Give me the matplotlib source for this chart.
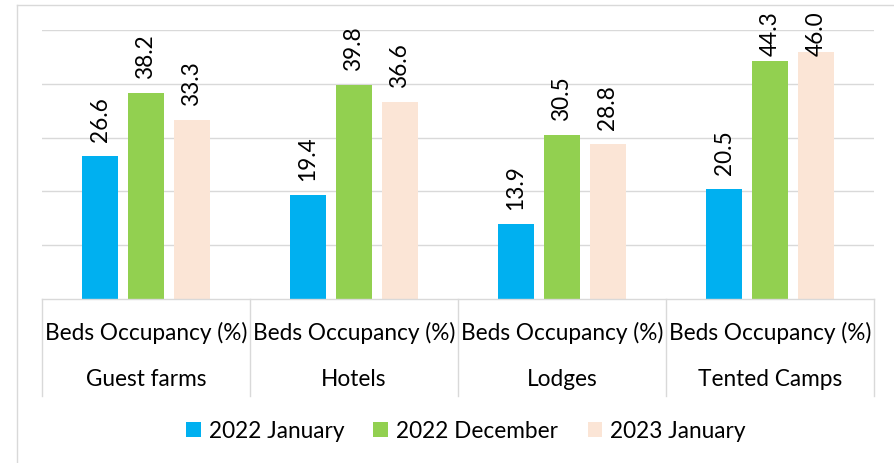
import matplotlib.pyplot as plt
from matplotlib.lines import Line2D
from matplotlib.patches import Patch
import numpy as np

plt.rcParams['font.family'] = ['Lato', 'DejaVu Sans']

categories = ['Guest farms', 'Hotels', 'Lodges', 'Tented Camps']
sub_label = 'Beds Occupancy (%)'
series_names = ['2022 January', '2022 December', '2023 January']
jan_2022 = [26.6, 19.4, 13.9, 20.5]
dec_2022 = [38.2, 39.8, 30.5, 44.3]
jan_2023 = [33.3, 36.6, 28.8, 46.0]
colors = ['#00B0F0', '#92D050', '#FBE5D6']

grid_col = '#D9D9D9'
fs = 16.3

fig = plt.figure(figsize=(8.94, 4.64), dpi=100)
ax = fig.add_axes([42 / 894, 1 - 300 / 464, 832 / 894, 269 / 464])

x = np.arange(len(categories))
width = 0.173
step = 0.221
for i, (vals, c) in enumerate(zip([jan_2022, dec_2022, jan_2023], colors)):
    xs = x + (i - 1) * step
    ax.bar(xs, vals, width, color=c, zorder=2)
    for xi, v in zip(xs, vals):
        ax.text(xi, min(v + 2.8, 45.3), f'{v:.1f}', rotation=90, ha='center',
                va='bottom', fontsize=fs)

ax.set_xlim(-0.5, 3.5)
ax.set_ylim(0, 50)
ax.set_yticks([10, 20, 30, 40, 50])
ax.yaxis.grid(True, color=grid_col, linewidth=1)
ax.tick_params(left=False, labelleft=False, bottom=False, labelbottom=False)
for s in ['left', 'right', 'top']:
    ax.spines[s].set_visible(False)
ax.spines['bottom'].set_color(grid_col)
ax.spines['bottom'].set_linewidth(1)

# category table under the axis
tr = ax.get_xaxis_transform()
for b in np.arange(-0.5, 4, 1):
    ax.add_line(Line2D([b, b], [0, -0.3606], transform=tr, color=grid_col,
                       linewidth=1, clip_on=False))
for xi, cat in zip(x, categories):
    ax.text(xi, -0.1227, sub_label, transform=tr, ha='center', va='center', fontsize=fs)
    ax.text(xi, -0.297, cat, transform=tr, ha='center', va='center', fontsize=fs)

handles = [Patch(facecolor=c) for c in colors]
fig.legend(handles, series_names, loc='center', bbox_to_anchor=(0.521, 1 - 432 / 464),
           ncol=3, frameon=False, fontsize=fs, handlelength=0.65, handleheight=0.65,
           handletextpad=0.35, columnspacing=1.3)

# outer chart frame
fig.add_artist(Line2D([17 / 894, 17 / 894], [0, 1 - 6 / 464], color=grid_col, linewidth=1))
fig.add_artist(Line2D([17 / 894, 1], [1 - 6 / 464, 1 - 6 / 464], color=grid_col, linewidth=1))

fig.savefig('out.png', dpi=100, facecolor='white')
